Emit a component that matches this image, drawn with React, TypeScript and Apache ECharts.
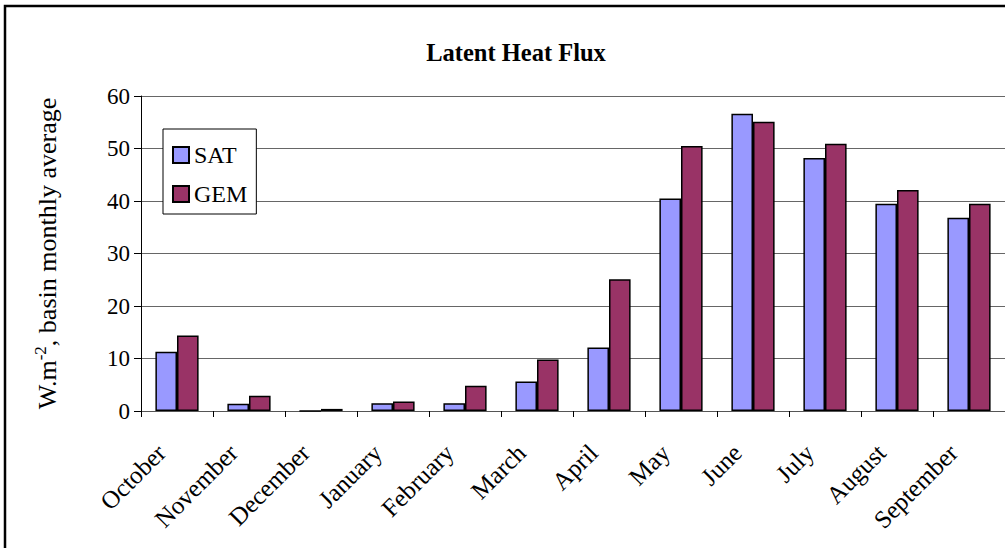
import React, { useEffect, useRef } from "react";
import * as echarts from "echarts";

const months = ["October", "November", "December", "January", "February", "March", "April", "May", "June", "July", "August", "September"];
const satValues = [11.3, 1.4, 0, 1.5, 1.5, 5.6, 12.1, 40.5, 56.6, 48.2, 39.5, 36.8];
const gemValues = [14.4, 2.9, 0.4, 1.8, 4.8, 9.8, 25.1, 50.5, 55.1, 50.9, 42.1, 39.5];

const FONT = "'Liberation Serif', 'Times New Roman', serif";

export default function App() {
  const ref = useRef<HTMLDivElement>(null);
  useEffect(() => {
    if (!ref.current) return;
    const chart = echarts.init(ref.current, undefined, { renderer: "svg" });
    chart.setOption({
      animation: false,
      backgroundColor: "#ffffff",
      title: {
        text: "Latent Heat Flux",
        left: 511,
        top: 35,
        textAlign: "center",
        textStyle: { fontFamily: FONT, fontWeight: "bold", fontSize: 24.5, color: "#000" },
      },
      graphic: [
        {
          type: "rect",
          shape: { x: 5, y: 6, width: 1100, height: 600 },
          style: { fill: "none", stroke: "#000", lineWidth: 2.5 },
          z: 100,
        },
      ],
      legend: {
        orient: "vertical",
        left: 163,
        top: 129,
        padding: [14, 9, 8, 9],
        itemWidth: 16,
        itemHeight: 16,
        itemGap: 15,
        backgroundColor: "#fff",
        borderColor: "#000",
        borderWidth: 1,
        icon: "rect",
        textStyle: { fontFamily: FONT, fontSize: 24, color: "#000" },
        data: ["SAT", "GEM"],
      },
      grid: { left: 141, top: 96, right: 0, bottom: 137, containLabel: false },
      xAxis: {
        type: "category",
        data: months,
        axisLine: { lineStyle: { color: "#555", width: 1 } },
        axisTick: { show: true, length: 6, lineStyle: { color: "#000" }, alignWithLabel: false },
        axisLabel: {
          rotate: 45,
          fontFamily: FONT,
          fontSize: 25,
          color: "#000",
          margin: 22,
          interval: 0,
          padding: [0, 22, 0, 0],
        },
      },
      yAxis: {
        type: "value",
        min: 0,
        max: 60,
        interval: 10,
        name: "{a|W.m}{s|-2}{a|, basin monthly average}",
        nameLocation: "middle",
        nameGap: 78,
        nameRotate: 90,
        nameTextStyle: {
          rich: {
            a: { fontFamily: FONT, fontSize: 26, color: "#000" },
            s: { fontFamily: FONT, fontSize: 17, color: "#000", padding: [0, 0, 14, 0] },
          },
        },
        axisLine: { show: true, lineStyle: { color: "#000", width: 1 } },
        axisTick: { show: true, length: 7, lineStyle: { color: "#000" } },
        axisLabel: { fontFamily: FONT, fontSize: 23, color: "#000", margin: 11 },
        splitLine: { show: true, lineStyle: { color: "#666", width: 1 } },
      },
      series: [
        {
          name: "SAT",
          type: "bar",
          data: satValues,
          barGap: "0%",
          barCategoryGap: "40%",
          itemStyle: { color: "#9999FF", borderColor: "#000", borderWidth: 1.5 },
        },
        {
          name: "GEM",
          type: "bar",
          data: gemValues,
          barGap: "0%",
          barCategoryGap: "40%",
          itemStyle: { color: "#993366", borderColor: "#000", borderWidth: 1.5 },
        },
      ],
    });
    return () => chart.dispose();
  }, []);
  return <div ref={ref} style={{ position: "fixed", left: 0, top: 0, width: 1005, height: 548 }} />;
}
